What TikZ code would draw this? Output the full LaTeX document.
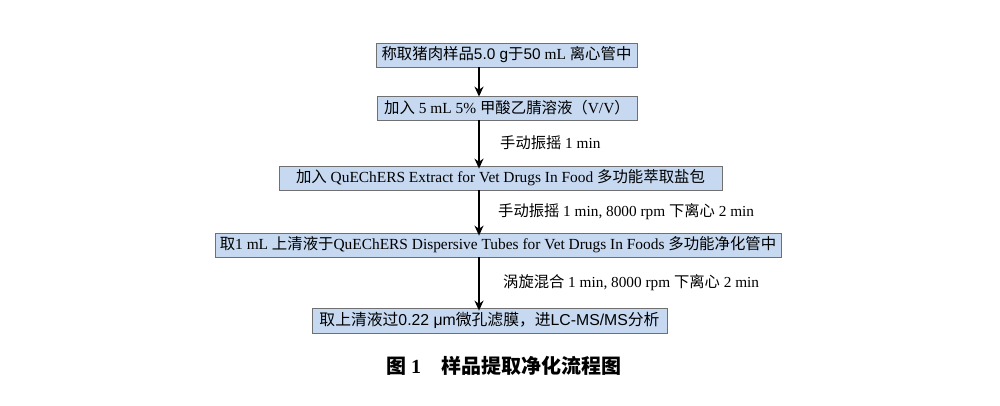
\documentclass[tikz,border=0pt]{standalone}
\usepackage{fontspec}
\setmainfont{Liberation Serif}
\newfontfamily\cjk{Noto Sans CJK SC}
\newfontfamily\ars{Liberation Sans}
\usetikzlibrary{arrows.meta}
\definecolor{boxfill}{HTML}{C6D9F1}
\definecolor{boxline}{HTML}{707070}
\tikzset{
  stepbox/.style={draw=boxline, line width=0.8pt, fill=boxfill, minimum height=24pt, inner sep=0pt, font=\fontsize{15.4}{17}\selectfont},
  flow/.style={-{Stealth[length=10pt,width=9pt]}, line width=1.6pt, black},
  lbl/.style={anchor=west, inner sep=0pt, font=\fontsize{15.3}{17}\selectfont},
}
\begin{document}
\begin{tikzpicture}[x=1pt,y=-1pt]
\useasboundingbox[fill=white] (0,0) rectangle (1000,406);
\node[stepbox, minimum width=261pt] (b1) at (506.5,55) {{\cjk 称取猪肉样品}{\ars 5.0 g}{\cjk 于}{\ars 50} mL {\cjk 离心管中}};
\node[stepbox, minimum width=260pt] (b2) at (507,108) {{\cjk 加入} 5 mL 5\% {\cjk 甲酸乙腈溶液（}V/V{\cjk ）}};
\node[stepbox, minimum width=443pt] (b3) at (500.5,178) {{\cjk 加入} QuEChERS Extract for Vet Drugs In Food {\cjk 多功能萃取盐包}};
\node[stepbox, minimum width=566pt] (b4) at (498,245) {{\cjk 取}1 mL {\cjk 上清液于}QuEChERS Dispersive Tubes for Vet Drugs In Foods {\cjk 多功能净化管中}};
\node[stepbox, minimum width=355pt, minimum height=25pt, font=\fontsize{15.8}{17}\selectfont] (b5) at (489.5,320.5) {{\cjk 取上清液过}{\ars 0.22 μm}{\cjk 微孔滤膜，进}{\ars LC-MS/MS}{\cjk 分析}};
\coordinate (ax) at (479,0);
\draw[flow] (b1.south -| ax) -- ([yshift=-1pt]b2.north -| ax);
\draw[flow] (b2.south -| ax) -- ([yshift=-3pt]b3.north -| ax);
\draw[flow] (b3.south -| ax) -- ([yshift=-3pt]b4.north -| ax);
\draw[flow] (b4.south -| ax) -- ([yshift=-3pt]b5.north -| ax);
\node[lbl] (l1) at (500,143) {{\cjk 手动振摇} 1 min};
\node[lbl] (l2) at (498,212) {{\cjk 手动振摇} 1 min, 8000 rpm {\cjk 下离心} 2 min};
\node[lbl] (l3) at (503,283) {{\cjk 涡旋混合} 1 min, 8000 rpm {\cjk 下离心} 2 min};
\node[font=\fontsize{20}{22}\selectfont\bfseries] (cap) at (503.5,366) {{\cjk 图} 1\quad{\cjk 样品提取净化流程图}};
\end{tikzpicture}
\end{document}
